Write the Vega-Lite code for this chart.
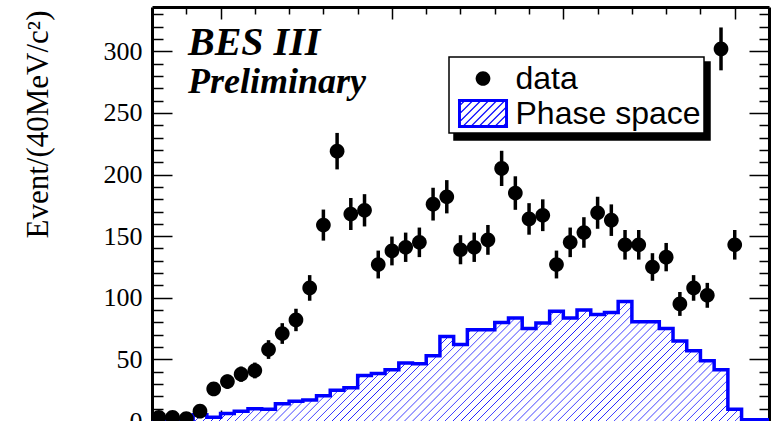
{
  "$schema": "https://vega.github.io/schema/vega-lite/v6.json",
  "width": 617,
  "height": 414,
  "autosize": {"type": "none"},
  "padding": {"left": 152, "top": 7, "right": 10, "bottom": 0},
  "background": "white",
  "title": {
    "text": "BES III", "subtitle": "Preliminary",
    "orient": "top", "anchor": "start", "frame": "group", "offset": -99, "dx": 36,
    "font": "Liberation Serif", "fontSize": 40, "fontStyle": "italic", "fontWeight": "bold", "color": "black",
    "subtitleFont": "Liberation Serif", "subtitleFontSize": 36, "subtitleFontStyle": "italic", "subtitleFontWeight": "bold", "subtitleColor": "black",
    "subtitlePadding": 2
  },
  "config": {
    "view": {"stroke": null},
    "axis": {"grid": false, "zindex": 1, "domainColor": "black", "domainWidth": 3, "tickColor": "black", "tickWidth": 1.5, "labelFlush": false, "labelOverlap": false},
    "legend": {"strokeWidth": 1.5}
  },
  "datasets": {
    "pts": [
      {"m": 0.82, "n": 3, "lo": 1.3, "hi": 4.7},
      {"m": 0.86, "n": 3, "lo": 1.3, "hi": 4.7},
      {"m": 0.90, "n": 2, "lo": 0.6, "hi": 3.4},
      {"m": 0.94, "n": 8, "lo": 5.2, "hi": 10.8},
      {"m": 0.98, "n": 26, "lo": 20.9, "hi": 31.1},
      {"m": 1.02, "n": 32, "lo": 26.3, "hi": 37.7},
      {"m": 1.06, "n": 38, "lo": 31.8, "hi": 44.2},
      {"m": 1.10, "n": 41, "lo": 34.6, "hi": 47.4},
      {"m": 1.14, "n": 58, "lo": 50.4, "hi": 65.6},
      {"m": 1.18, "n": 71, "lo": 62.6, "hi": 79.4},
      {"m": 1.22, "n": 82, "lo": 72.9, "hi": 91.1},
      {"m": 1.26, "n": 108, "lo": 97.6, "hi": 118.4},
      {"m": 1.30, "n": 159, "lo": 146.4, "hi": 171.6},
      {"m": 1.34, "n": 219, "lo": 204.2, "hi": 233.8},
      {"m": 1.38, "n": 168, "lo": 155, "hi": 181},
      {"m": 1.42, "n": 171, "lo": 157.9, "hi": 184.1},
      {"m": 1.46, "n": 127, "lo": 115.7, "hi": 138.3},
      {"m": 1.50, "n": 138, "lo": 126.3, "hi": 149.7},
      {"m": 1.54, "n": 141, "lo": 129.1, "hi": 152.9},
      {"m": 1.58, "n": 145, "lo": 133, "hi": 157},
      {"m": 1.62, "n": 176, "lo": 162.7, "hi": 189.3},
      {"m": 1.66, "n": 182, "lo": 168.5, "hi": 195.5},
      {"m": 1.70, "n": 139, "lo": 127.2, "hi": 150.8},
      {"m": 1.74, "n": 141, "lo": 129.1, "hi": 152.9},
      {"m": 1.78, "n": 147, "lo": 134.9, "hi": 159.1},
      {"m": 1.82, "n": 205, "lo": 190.7, "hi": 219.3},
      {"m": 1.86, "n": 185, "lo": 171.4, "hi": 198.6},
      {"m": 1.90, "n": 164, "lo": 151.2, "hi": 176.8},
      {"m": 1.94, "n": 167, "lo": 154.1, "hi": 179.9},
      {"m": 1.98, "n": 127, "lo": 115.7, "hi": 138.3},
      {"m": 2.02, "n": 145, "lo": 133, "hi": 157},
      {"m": 2.06, "n": 153, "lo": 140.6, "hi": 165.4},
      {"m": 2.10, "n": 169, "lo": 156, "hi": 182},
      {"m": 2.14, "n": 163, "lo": 150.2, "hi": 175.8},
      {"m": 2.18, "n": 143, "lo": 131, "hi": 155},
      {"m": 2.22, "n": 143, "lo": 131, "hi": 155},
      {"m": 2.26, "n": 125, "lo": 113.8, "hi": 136.2},
      {"m": 2.30, "n": 133, "lo": 121.5, "hi": 144.5},
      {"m": 2.34, "n": 95, "lo": 85.3, "hi": 104.7},
      {"m": 2.38, "n": 108, "lo": 97.6, "hi": 118.4},
      {"m": 2.42, "n": 102, "lo": 91.9, "hi": 112.1},
      {"m": 2.46, "n": 302, "lo": 284.6, "hi": 319.4},
      {"m": 2.50, "n": 143, "lo": 131, "hi": 155}
    ],
    "ps": [
      {"m": 0.80, "v": 1}, {"m": 0.84, "v": 1}, {"m": 0.88, "v": 1}, {"m": 0.92, "v": 5},
      {"m": 0.96, "v": 3}, {"m": 1.00, "v": 6}, {"m": 1.04, "v": 8}, {"m": 1.08, "v": 10},
      {"m": 1.12, "v": 9.5}, {"m": 1.16, "v": 14}, {"m": 1.20, "v": 16}, {"m": 1.24, "v": 17},
      {"m": 1.28, "v": 20.5}, {"m": 1.32, "v": 25}, {"m": 1.36, "v": 27}, {"m": 1.40, "v": 37},
      {"m": 1.44, "v": 38.5}, {"m": 1.48, "v": 41.5}, {"m": 1.52, "v": 47}, {"m": 1.56, "v": 46.5},
      {"m": 1.60, "v": 53}, {"m": 1.64, "v": 68.5}, {"m": 1.68, "v": 62}, {"m": 1.72, "v": 74},
      {"m": 1.76, "v": 74}, {"m": 1.80, "v": 80}, {"m": 1.84, "v": 83.5}, {"m": 1.88, "v": 75},
      {"m": 1.92, "v": 79.5}, {"m": 1.96, "v": 89}, {"m": 2.00, "v": 83.5}, {"m": 2.04, "v": 90},
      {"m": 2.08, "v": 86.5}, {"m": 2.12, "v": 88}, {"m": 2.16, "v": 97}, {"m": 2.20, "v": 80.5},
      {"m": 2.24, "v": 80.5}, {"m": 2.28, "v": 75}, {"m": 2.32, "v": 65}, {"m": 2.36, "v": 57},
      {"m": 2.40, "v": 49}, {"m": 2.44, "v": 41.5}, {"m": 2.48, "v": 9.5}, {"m": 2.52, "v": 1},
      {"m": 2.56, "v": 1}, {"m": 2.60, "v": 1}
    ]
  },
  "layer": [
    {
      "data": {"name": "ps"},
      "mark": {
        "type": "area",
        "interpolate": "step-after",
        "fill": {
          "gradient": "linear", "x1": 0, "y1": 0, "x2": 1.2, "y2": 0.232,
          "stops": [
            {"offset": 0, "color": "white"}, {"offset": 0.0011, "color": "#1a1aff"}, {"offset": 0.0022, "color": "white"},
            {"offset": 0.0105, "color": "white"}, {"offset": 0.0116, "color": "#1a1aff"}, {"offset": 0.0127, "color": "white"},
            {"offset": 0.021, "color": "white"}, {"offset": 0.0221, "color": "#1a1aff"}, {"offset": 0.0232, "color": "white"},
            {"offset": 0.0315, "color": "white"}, {"offset": 0.0326, "color": "#1a1aff"}, {"offset": 0.0337, "color": "white"},
            {"offset": 0.042, "color": "white"}, {"offset": 0.0431, "color": "#1a1aff"}, {"offset": 0.0442, "color": "white"},
            {"offset": 0.0525, "color": "white"}, {"offset": 0.0536, "color": "#1a1aff"}, {"offset": 0.0547, "color": "white"},
            {"offset": 0.063, "color": "white"}, {"offset": 0.0641, "color": "#1a1aff"}, {"offset": 0.0652, "color": "white"},
            {"offset": 0.0735, "color": "white"}, {"offset": 0.0746, "color": "#1a1aff"}, {"offset": 0.0757, "color": "white"},
            {"offset": 0.084, "color": "white"}, {"offset": 0.0851, "color": "#1a1aff"}, {"offset": 0.0862, "color": "white"},
            {"offset": 0.0945, "color": "white"}, {"offset": 0.0956, "color": "#1a1aff"}, {"offset": 0.0967, "color": "white"},
            {"offset": 0.105, "color": "white"}, {"offset": 0.1061, "color": "#1a1aff"}, {"offset": 0.1072, "color": "white"},
            {"offset": 0.1155, "color": "white"}, {"offset": 0.1166, "color": "#1a1aff"}, {"offset": 0.1177, "color": "white"},
            {"offset": 0.126, "color": "white"}, {"offset": 0.1271, "color": "#1a1aff"}, {"offset": 0.1282, "color": "white"},
            {"offset": 0.1365, "color": "white"}, {"offset": 0.1376, "color": "#1a1aff"}, {"offset": 0.1387, "color": "white"},
            {"offset": 0.147, "color": "white"}, {"offset": 0.1481, "color": "#1a1aff"}, {"offset": 0.1492, "color": "white"},
            {"offset": 0.1575, "color": "white"}, {"offset": 0.1586, "color": "#1a1aff"}, {"offset": 0.1597, "color": "white"},
            {"offset": 0.168, "color": "white"}, {"offset": 0.1691, "color": "#1a1aff"}, {"offset": 0.1702, "color": "white"},
            {"offset": 0.1785, "color": "white"}, {"offset": 0.1796, "color": "#1a1aff"}, {"offset": 0.1807, "color": "white"},
            {"offset": 0.189, "color": "white"}, {"offset": 0.1901, "color": "#1a1aff"}, {"offset": 0.1912, "color": "white"},
            {"offset": 0.1995, "color": "white"}, {"offset": 0.2006, "color": "#1a1aff"}, {"offset": 0.2017, "color": "white"},
            {"offset": 0.21, "color": "white"}, {"offset": 0.2111, "color": "#1a1aff"}, {"offset": 0.2122, "color": "white"},
            {"offset": 0.2205, "color": "white"}, {"offset": 0.2216, "color": "#1a1aff"}, {"offset": 0.2227, "color": "white"},
            {"offset": 0.231, "color": "white"}, {"offset": 0.2321, "color": "#1a1aff"}, {"offset": 0.2332, "color": "white"},
            {"offset": 0.2415, "color": "white"}, {"offset": 0.2426, "color": "#1a1aff"}, {"offset": 0.2437, "color": "white"},
            {"offset": 0.252, "color": "white"}, {"offset": 0.2531, "color": "#1a1aff"}, {"offset": 0.2542, "color": "white"},
            {"offset": 0.2625, "color": "white"}, {"offset": 0.2636, "color": "#1a1aff"}, {"offset": 0.2647, "color": "white"},
            {"offset": 0.273, "color": "white"}, {"offset": 0.2741, "color": "#1a1aff"}, {"offset": 0.2752, "color": "white"},
            {"offset": 0.2835, "color": "white"}, {"offset": 0.2846, "color": "#1a1aff"}, {"offset": 0.2857, "color": "white"},
            {"offset": 0.294, "color": "white"}, {"offset": 0.2951, "color": "#1a1aff"}, {"offset": 0.2962, "color": "white"},
            {"offset": 0.3045, "color": "white"}, {"offset": 0.3056, "color": "#1a1aff"}, {"offset": 0.3067, "color": "white"},
            {"offset": 0.315, "color": "white"}, {"offset": 0.3161, "color": "#1a1aff"}, {"offset": 0.3172, "color": "white"},
            {"offset": 0.3255, "color": "white"}, {"offset": 0.3266, "color": "#1a1aff"}, {"offset": 0.3277, "color": "white"},
            {"offset": 0.336, "color": "white"}, {"offset": 0.3371, "color": "#1a1aff"}, {"offset": 0.3382, "color": "white"},
            {"offset": 0.3465, "color": "white"}, {"offset": 0.3476, "color": "#1a1aff"}, {"offset": 0.3487, "color": "white"},
            {"offset": 0.357, "color": "white"}, {"offset": 0.3581, "color": "#1a1aff"}, {"offset": 0.3592, "color": "white"},
            {"offset": 0.3675, "color": "white"}, {"offset": 0.3686, "color": "#1a1aff"}, {"offset": 0.3697, "color": "white"},
            {"offset": 0.378, "color": "white"}, {"offset": 0.3791, "color": "#1a1aff"}, {"offset": 0.3802, "color": "white"},
            {"offset": 0.3885, "color": "white"}, {"offset": 0.3896, "color": "#1a1aff"}, {"offset": 0.3907, "color": "white"},
            {"offset": 0.399, "color": "white"}, {"offset": 0.4001, "color": "#1a1aff"}, {"offset": 0.4012, "color": "white"},
            {"offset": 0.4095, "color": "white"}, {"offset": 0.4106, "color": "#1a1aff"}, {"offset": 0.4117, "color": "white"},
            {"offset": 0.42, "color": "white"}, {"offset": 0.4211, "color": "#1a1aff"}, {"offset": 0.4222, "color": "white"},
            {"offset": 0.4305, "color": "white"}, {"offset": 0.4316, "color": "#1a1aff"}, {"offset": 0.4327, "color": "white"},
            {"offset": 0.441, "color": "white"}, {"offset": 0.4421, "color": "#1a1aff"}, {"offset": 0.4432, "color": "white"},
            {"offset": 0.4515, "color": "white"}, {"offset": 0.4526, "color": "#1a1aff"}, {"offset": 0.4537, "color": "white"},
            {"offset": 0.462, "color": "white"}, {"offset": 0.4631, "color": "#1a1aff"}, {"offset": 0.4642, "color": "white"},
            {"offset": 0.4725, "color": "white"}, {"offset": 0.4736, "color": "#1a1aff"}, {"offset": 0.4747, "color": "white"},
            {"offset": 0.483, "color": "white"}, {"offset": 0.4841, "color": "#1a1aff"}, {"offset": 0.4852, "color": "white"},
            {"offset": 0.4935, "color": "white"}, {"offset": 0.4946, "color": "#1a1aff"}, {"offset": 0.4957, "color": "white"},
            {"offset": 0.504, "color": "white"}, {"offset": 0.5051, "color": "#1a1aff"}, {"offset": 0.5062, "color": "white"},
            {"offset": 0.5145, "color": "white"}, {"offset": 0.5156, "color": "#1a1aff"}, {"offset": 0.5167, "color": "white"},
            {"offset": 0.525, "color": "white"}, {"offset": 0.5261, "color": "#1a1aff"}, {"offset": 0.5272, "color": "white"},
            {"offset": 0.5355, "color": "white"}, {"offset": 0.5366, "color": "#1a1aff"}, {"offset": 0.5377, "color": "white"},
            {"offset": 0.546, "color": "white"}, {"offset": 0.5471, "color": "#1a1aff"}, {"offset": 0.5482, "color": "white"},
            {"offset": 0.5565, "color": "white"}, {"offset": 0.5576, "color": "#1a1aff"}, {"offset": 0.5587, "color": "white"},
            {"offset": 0.567, "color": "white"}, {"offset": 0.5681, "color": "#1a1aff"}, {"offset": 0.5692, "color": "white"},
            {"offset": 0.5775, "color": "white"}, {"offset": 0.5786, "color": "#1a1aff"}, {"offset": 0.5797, "color": "white"},
            {"offset": 0.588, "color": "white"}, {"offset": 0.5891, "color": "#1a1aff"}, {"offset": 0.5902, "color": "white"},
            {"offset": 0.5985, "color": "white"}, {"offset": 0.5996, "color": "#1a1aff"}, {"offset": 0.6007, "color": "white"},
            {"offset": 0.609, "color": "white"}, {"offset": 0.6101, "color": "#1a1aff"}, {"offset": 0.6112, "color": "white"},
            {"offset": 0.6195, "color": "white"}, {"offset": 0.6206, "color": "#1a1aff"}, {"offset": 0.6217, "color": "white"},
            {"offset": 0.63, "color": "white"}, {"offset": 0.6311, "color": "#1a1aff"}, {"offset": 0.6322, "color": "white"},
            {"offset": 0.6405, "color": "white"}, {"offset": 0.6416, "color": "#1a1aff"}, {"offset": 0.6427, "color": "white"},
            {"offset": 0.651, "color": "white"}, {"offset": 0.6521, "color": "#1a1aff"}, {"offset": 0.6532, "color": "white"},
            {"offset": 0.6615, "color": "white"}, {"offset": 0.6626, "color": "#1a1aff"}, {"offset": 0.6637, "color": "white"},
            {"offset": 0.672, "color": "white"}, {"offset": 0.6731, "color": "#1a1aff"}, {"offset": 0.6742, "color": "white"},
            {"offset": 0.6825, "color": "white"}, {"offset": 0.6836, "color": "#1a1aff"}, {"offset": 0.6847, "color": "white"},
            {"offset": 0.693, "color": "white"}, {"offset": 0.6941, "color": "#1a1aff"}, {"offset": 0.6952, "color": "white"},
            {"offset": 0.7035, "color": "white"}, {"offset": 0.7046, "color": "#1a1aff"}, {"offset": 0.7057, "color": "white"},
            {"offset": 0.714, "color": "white"}, {"offset": 0.7151, "color": "#1a1aff"}, {"offset": 0.7162, "color": "white"},
            {"offset": 0.7245, "color": "white"}, {"offset": 0.7256, "color": "#1a1aff"}, {"offset": 0.7267, "color": "white"},
            {"offset": 0.735, "color": "white"}, {"offset": 0.7361, "color": "#1a1aff"}, {"offset": 0.7372, "color": "white"},
            {"offset": 0.7455, "color": "white"}, {"offset": 0.7466, "color": "#1a1aff"}, {"offset": 0.7477, "color": "white"},
            {"offset": 0.756, "color": "white"}, {"offset": 0.7571, "color": "#1a1aff"}, {"offset": 0.7582, "color": "white"},
            {"offset": 0.7665, "color": "white"}, {"offset": 0.7676, "color": "#1a1aff"}, {"offset": 0.7687, "color": "white"},
            {"offset": 0.777, "color": "white"}, {"offset": 0.7781, "color": "#1a1aff"}, {"offset": 0.7792, "color": "white"},
            {"offset": 0.7875, "color": "white"}, {"offset": 0.7886, "color": "#1a1aff"}, {"offset": 0.7897, "color": "white"},
            {"offset": 0.798, "color": "white"}, {"offset": 0.7991, "color": "#1a1aff"}, {"offset": 0.8002, "color": "white"},
            {"offset": 0.8085, "color": "white"}, {"offset": 0.8096, "color": "#1a1aff"}, {"offset": 0.8107, "color": "white"},
            {"offset": 0.819, "color": "white"}, {"offset": 0.8201, "color": "#1a1aff"}, {"offset": 0.8212, "color": "white"},
            {"offset": 0.8295, "color": "white"}, {"offset": 0.8306, "color": "#1a1aff"}, {"offset": 0.8317, "color": "white"},
            {"offset": 0.84, "color": "white"}, {"offset": 0.8411, "color": "#1a1aff"}, {"offset": 0.8422, "color": "white"},
            {"offset": 0.8505, "color": "white"}, {"offset": 0.8516, "color": "#1a1aff"}, {"offset": 0.8527, "color": "white"},
            {"offset": 0.861, "color": "white"}, {"offset": 0.8621, "color": "#1a1aff"}, {"offset": 0.8632, "color": "white"},
            {"offset": 0.8715, "color": "white"}, {"offset": 0.8726, "color": "#1a1aff"}, {"offset": 0.8737, "color": "white"},
            {"offset": 0.882, "color": "white"}, {"offset": 0.8831, "color": "#1a1aff"}, {"offset": 0.8842, "color": "white"},
            {"offset": 0.8925, "color": "white"}, {"offset": 0.8936, "color": "#1a1aff"}, {"offset": 0.8947, "color": "white"},
            {"offset": 0.903, "color": "white"}, {"offset": 0.9041, "color": "#1a1aff"}, {"offset": 0.9052, "color": "white"},
            {"offset": 0.9135, "color": "white"}, {"offset": 0.9146, "color": "#1a1aff"}, {"offset": 0.9157, "color": "white"},
            {"offset": 0.924, "color": "white"}, {"offset": 0.9251, "color": "#1a1aff"}, {"offset": 0.9262, "color": "white"},
            {"offset": 0.9345, "color": "white"}, {"offset": 0.9356, "color": "#1a1aff"}, {"offset": 0.9367, "color": "white"},
            {"offset": 0.945, "color": "white"}, {"offset": 0.9461, "color": "#1a1aff"}, {"offset": 0.9472, "color": "white"},
            {"offset": 0.9555, "color": "white"}, {"offset": 0.9566, "color": "#1a1aff"}, {"offset": 0.9577, "color": "white"},
            {"offset": 1, "color": "white"}
          ]
        }
      },
      "encoding": {
        "x": {
          "field": "m", "type": "quantitative",
          "scale": {"domain": [0.8, 2.6], "nice": false, "zero": false},
          "axis": {
            "orient": "bottom",
            "values": [0.9, 1.0, 1.1, 1.2, 1.3, 1.4, 1.5, 1.6, 1.7, 1.8, 1.9, 2.0, 2.1, 2.2, 2.3, 2.4, 2.5],
            "labels": false, "title": null,
            "tickSize": {"condition": {"test": "abs(datum.value*2 - round(datum.value*2)) < 0.01", "value": -11}, "value": -6}
          }
        },
        "y": {
          "field": "v", "type": "quantitative",
          "scale": {"domain": [0, 336], "nice": false},
          "axis": {
            "orient": "left",
            "values": [0, 10, 20, 30, 40, 50, 60, 70, 80, 90, 100, 110, 120, 130, 140, 150, 160, 170, 180, 190, 200, 210, 220, 230, 240, 250, 260, 270, 280, 290, 300, 310, 320, 330],
            "labelExpr": "datum.value % 50 === 0 ? datum.label : ''",
            "labelFont": "Liberation Serif", "labelFontSize": 26, "labelColor": "black", "labelPadding": 30, "labelOverlap": false,
            "tickSize": {"condition": {"test": "datum.value % 50 === 0", "value": -20}, "value": -11},
            "title": "Event/(40MeV/c²)",
            "titleFont": "Liberation Serif", "titleFontSize": 31, "titleFontWeight": "normal", "titleColor": "black",
            "titleAngle": -90, "titleAlign": "right", "titleBaseline": "middle", "titleX": -114, "titleY": 3
          }
        }
      }
    },
    {
      "data": {"name": "ps"},
      "mark": {"type": "line", "interpolate": "step-after", "color": "#0000ff", "strokeWidth": 3.5},
      "encoding": {
        "x": {"field": "m", "type": "quantitative", "scale": {"domain": [0.8, 2.6], "nice": false, "zero": false}, "axis": null},
        "y": {"field": "v", "type": "quantitative", "scale": {"domain": [0, 336], "nice": false}, "axis": null}
      }
    },
    {
      "data": {"name": "pts"},
      "mark": {"type": "rule", "color": "black", "strokeWidth": 3.5},
      "encoding": {
        "x": {"field": "m", "type": "quantitative", "scale": {"domain": [0.8, 2.6], "nice": false, "zero": false}, "axis": null},
        "y": {"field": "lo", "type": "quantitative", "scale": {"domain": [0, 336], "nice": false}, "axis": null},
        "y2": {"field": "hi"}
      }
    },
    {
      "data": {"name": "pts"},
      "mark": {"type": "point", "filled": true, "opacity": 1, "strokeWidth": 0},
      "encoding": {
        "x": {
          "field": "m", "type": "quantitative",
          "scale": {"domain": [0.8, 2.6], "nice": false, "zero": false},
          "axis": {
            "orient": "top",
            "values": [0.9, 1.0, 1.1, 1.2, 1.3, 1.4, 1.5, 1.6, 1.7, 1.8, 1.9, 2.0, 2.1, 2.2, 2.3, 2.4, 2.5],
            "labels": false, "title": null,
            "tickSize": {"condition": {"test": "abs(datum.value*2 - round(datum.value*2)) < 0.01", "value": -12}, "value": -7}
          }
        },
        "y": {
          "field": "n", "type": "quantitative",
          "scale": {"domain": [0, 336], "nice": false},
          "axis": {
            "orient": "right",
            "values": [0, 10, 20, 30, 40, 50, 60, 70, 80, 90, 100, 110, 120, 130, 140, 150, 160, 170, 180, 190, 200, 210, 220, 230, 240, 250, 260, 270, 280, 290, 300, 310, 320, 330],
            "labels": false, "title": null,
            "tickSize": {"condition": {"test": "datum.value % 50 === 0", "value": -20}, "value": -10}
          }
        },
        "color": {
          "datum": "data", "type": "nominal",
          "scale": {"domain": ["data", "Phase space"], "range": ["black", "#0000ff"]},
          "legend": {
            "orient": "none", "legendX": 297, "legendY": 50, "title": null, "zindex": 2,
            "fillColor": "white", "strokeColor": "black",
            "padding": 3, "symbolSize": 1225, "symbolOffset": 12.5, "labelOffset": 14, "rowPadding": -5,
            "labelFont": "Liberation Sans", "labelFontSize": 32, "labelColor": "black", "labelLimit": 400
          }
        },
        "shape": {
          "datum": "data", "type": "nominal",
          "scale": {"domain": ["data", "Phase space"], "range": [
            "M0.42,0A0.42,0.42,0,1,1,-0.42,0A0.42,0.42,0,1,1,0.42,0Z",
            "M-1.43,-0.83L1.43,-0.83L1.43,0.83L-1.43,0.83ZM-1.26,-0.66L-1.26,0.66L1.26,0.66L1.26,-0.66ZM-1.3,-0.53L-1.13,-0.7L-1.03,-0.7L-1.3,-0.43ZM-1.3,-0.07L-0.67,-0.7L-0.57,-0.7L-1.3,0.03ZM-1.3,0.39L-0.21,-0.7L-0.11,-0.7L-1.3,0.49ZM-1.16,0.7L0.24,-0.7L0.34,-0.7L-1.06,0.7ZM-0.7,0.7L0.7,-0.7L0.8,-0.7L-0.6,0.7ZM-0.24,0.7L1.16,-0.7L1.26,-0.7L-0.14,0.7ZM0.21,0.7L1.3,-0.39L1.3,-0.29L0.31,0.7ZM0.67,0.7L1.3,0.07L1.3,0.17L0.77,0.7ZM1.13,0.7L1.3,0.53L1.3,0.63L1.23,0.7Z"
          ]},
          "legend": {
            "orient": "none", "legendX": 297, "legendY": 50, "title": null, "zindex": 2,
            "fillColor": "white", "strokeColor": "black",
            "padding": 3, "symbolSize": 1225, "symbolOffset": 12.5, "labelOffset": 14, "rowPadding": -5,
            "labelFont": "Liberation Sans", "labelFontSize": 32, "labelColor": "black", "labelLimit": 400
          }
        },
        "size": {
          "datum": "s1", "type": "nominal",
          "scale": {"domain": ["s1", "s2"], "range": [1225, 1225]},
          "legend": {
            "orient": "none", "legendX": 302, "legendY": 55, "title": null, "zindex": 1,
            "fillColor": "black", "strokeColor": "black",
            "padding": 3, "symbolSize": 1225, "symbolOffset": 12.5, "labelOffset": 200, "rowPadding": -5,
            "labelFont": "Liberation Sans", "labelFontSize": 32, "labelColor": "black", "labelLimit": 400,
            "labelExpr": "''",
            "symbolOpacity": 0
          }
        }
      }
    }
  ],
  "resolve": {"scale": {"x": "independent", "y": "independent"}}
}
